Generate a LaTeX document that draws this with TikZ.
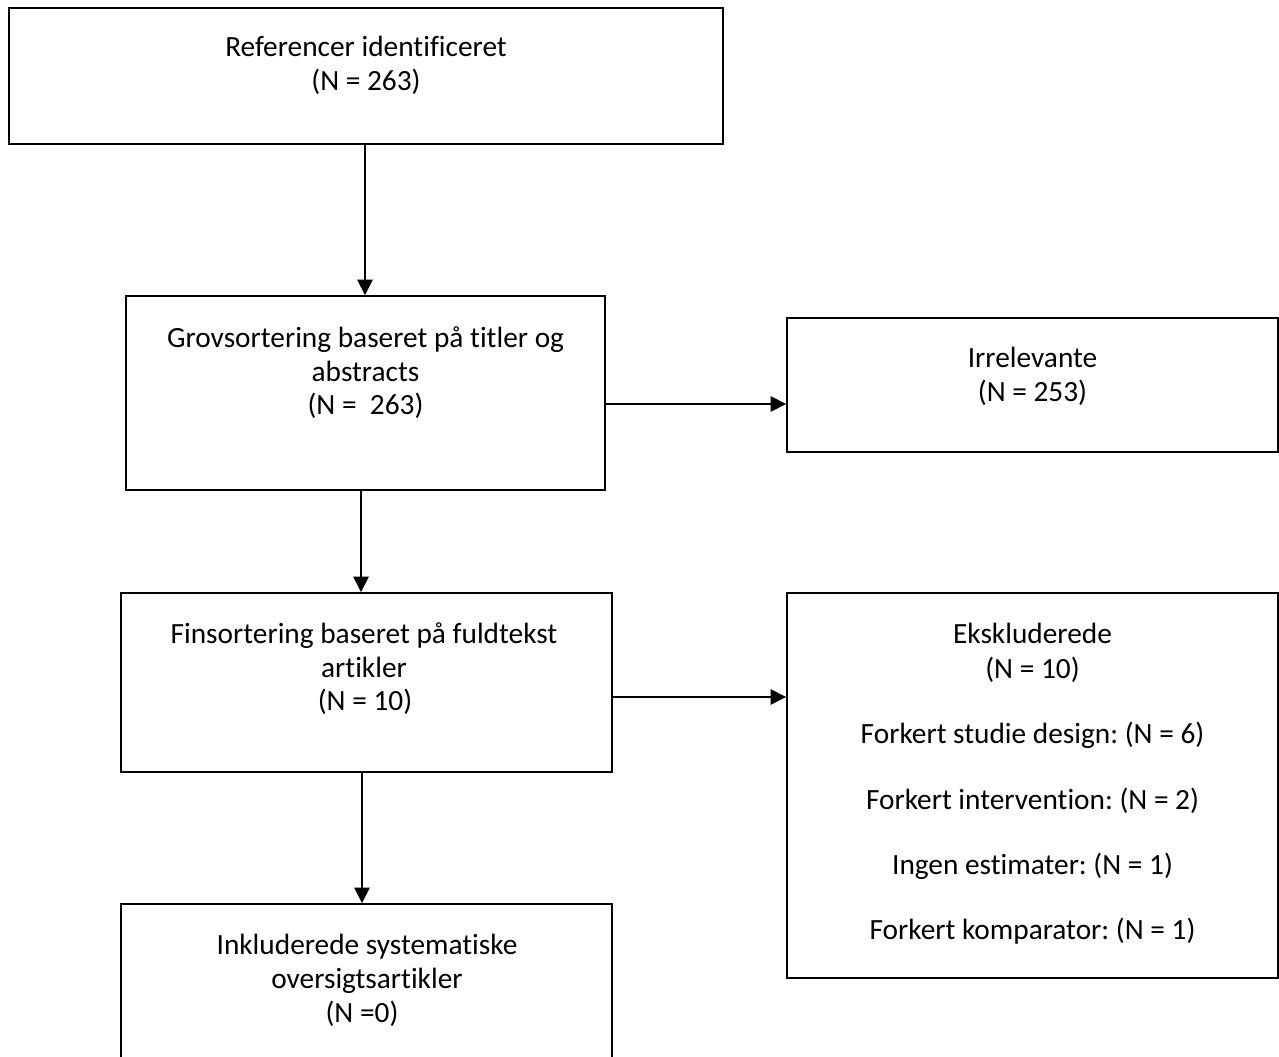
\documentclass[tikz,border=0pt]{standalone}
\usepackage{fontspec}
\setmainfont{Carlito}[Ligatures={NoCommon}]
\usetikzlibrary{arrows.meta}
\frenchspacing
\tikzset{
  box/.style={draw=black, line width=1.4pt, fill=none, inner sep=0pt},
  txt/.style={anchor=base, inner sep=0pt, font=\fontsize{22}{26}\selectfont},
  conn/.style={line width=1.2pt, -{Triangle[length=11.5pt,width=11.5pt]}}
}
\begin{document}
\begin{tikzpicture}[x=0.75pt,y=-0.75pt]
\useasboundingbox (0,0) rectangle (1279,1057);
\clip (0,0) rectangle (1279,1057);
\fill[white] (0,0) rectangle (1279,1057);

% boxes
\node[box, minimum width=714*0.75pt, minimum height=136*0.75pt] (b1) at (366,76) {};
\node[box, minimum width=479*0.75pt, minimum height=194*0.75pt] (b2) at (365.5,393) {};
\node[box, minimum width=491*0.75pt, minimum height=134*0.75pt] (b3) at (1032.5,385) {};
\node[box, minimum width=491*0.75pt, minimum height=179*0.75pt] (b4) at (366.5,682.5) {};
\node[box, minimum width=491*0.75pt, minimum height=385*0.75pt] (b5) at (1032.5,785.5) {};
\node[box, minimum width=491*0.75pt, minimum height=200*0.75pt] (b6) at (366.5,1004) {};

% texts
\node[txt] (t1a) at (366,56) {Referencer identificeret};
\node[txt] (t1b) at (366,90) {(N = 263)};

\node[txt] (t2a) at (365.5,347) {Grovsortering baseret på titler og};
\node[txt] (t2b) at (365.5,381) {abstracts};
\node[txt] (t2c) at (365.5,414) {(N = \ 263)};

\node[txt] (t3a) at (1032.5,367) {Irrelevante};
\node[txt] (t3b) at (1032.5,401) {(N = 253)};

\node[txt] (t4a) at (364,643) {Finsortering baseret på fuldtekst};
\node[txt] (t4b) at (364,677) {artikler};
\node[txt] (t4c) at (365,710) {(N = 10)};

\node[txt] (t5a) at (1032.5,643) {Ekskluderede};
\node[txt] (t5b) at (1032.5,678) {(N = 10)};
\node[txt] (t5c) at (1032.5,743) {Forkert studie design: (N = 6)};
\node[txt] (t5d) at (1032.5,809) {Forkert intervention: (N = 2)};
\node[txt] (t5e) at (1032.5,874) {Ingen estimater: (N = 1)};
\node[txt] (t5f) at (1032.5,939) {Forkert komparator: (N = 1)};

\node[txt] (t6a) at (367,954) {Inkluderede systematiske};
\node[txt] (t6b) at (367,988) {oversigtsartikler};
\node[txt] (t6c) at (362,1022) {(N =0)};

% helper coordinates for connector positions
\coordinate (y2) at (0,404);
\coordinate (y4) at (0,697);
\coordinate (x1) at (365,0);
\coordinate (x3) at (361,0);
\coordinate (x5) at (362,0);

% connectors
\draw[conn] (b1.south -| x1) -- (b2.north -| x1);
\draw[conn] (b2.east |- y2) -- (b3.west |- y2);
\draw[conn] (b2.south -| x3) -- (b4.north -| x3);
\draw[conn] (b4.east |- y4) -- (b5.west |- y4);
\draw[conn] (b4.south -| x5) -- (b6.north -| x5);
\end{tikzpicture}
\end{document}
